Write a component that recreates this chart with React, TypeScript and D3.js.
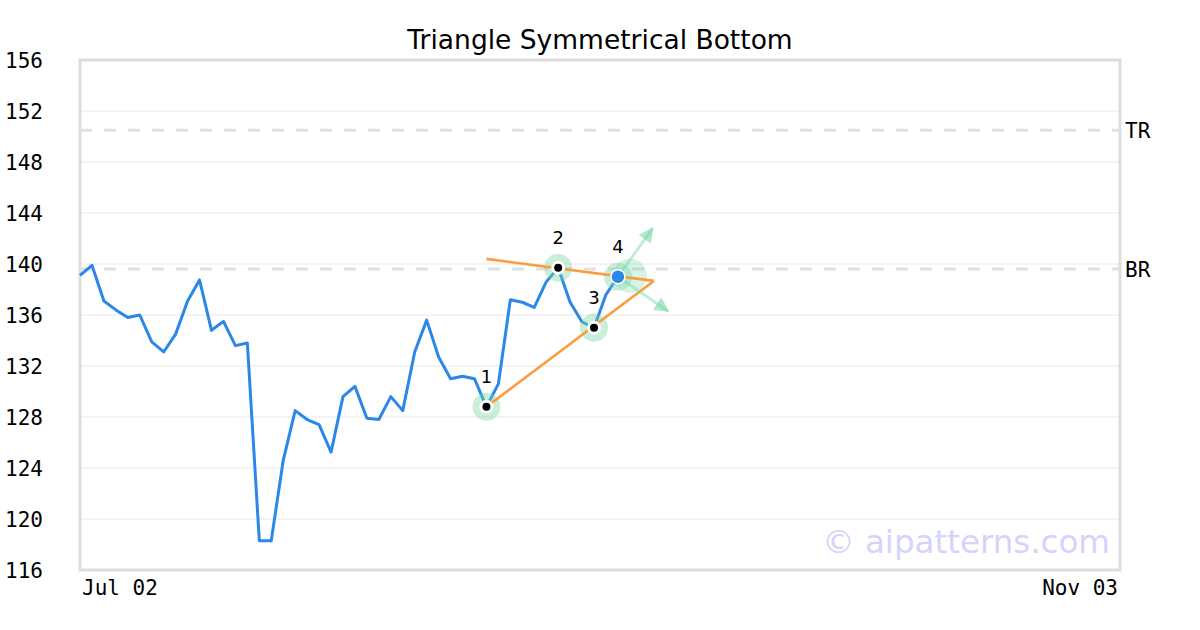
import React from "react";
import * as d3 from "d3";

const prices: number[] = [
  139.1, 139.9, 137.1, 136.4, 135.8, 136.0, 133.9, 133.1, 134.5, 137.1,
  138.75, 134.8, 135.5, 133.6, 133.8, 118.3, 118.3, 124.6, 128.5, 127.8,
  127.4, 125.25, 129.6, 130.4, 127.9, 127.8, 129.6, 128.5, 133.1, 135.6,
  132.7, 131.0, 131.2, 131.0, 128.8, 130.6, 137.2, 137.0, 136.6, 138.6,
  139.7, 137.0, 135.45, 135.0, 137.6, 139.0,
];
const totalSlots = 87;
const xTickLabels = ["Jul 02", "Nov 03"];
const yTicks = [116, 120, 124, 128, 132, 136, 140, 144, 148, 152, 156];
const pivotIdx = [34, 40, 43, 45];
const pivotLabels = ["1", "2", "3", "4"];
const upperLine = [
  { i: 34, v: 140.4 },
  { i: 48, v: 138.67 },
];
const lowerLine = [
  { i: 34, v: 128.8 },
  { i: 48, v: 138.67 },
];
const arrowTips = [
  { i: 47.9, v: 142.8 },
  { i: 49.2, v: 136.3 },
];
const levels = [
  { name: "TR", v: 150.5 },
  { name: "BR", v: 139.6 },
];

const W = 1200;
const H = 630;
const L = 80, R = 1120, T = 60, B = 570;
const mono = "'DejaVu Sans Mono', monospace";
const sans = "'DejaVu Sans', sans-serif";

export default function App() {
  const x = d3.scaleLinear().domain([0, totalSlots]).range([L, R]);
  const y = d3.scaleLinear().domain([116, 156]).range([B, T]);
  const line = d3
    .line<number>()
    .x((_, i) => x(i))
    .y((d) => y(d));
  const seg = d3
    .line<{ i: number; v: number }>()
    .x((d) => x(d.i))
    .y((d) => y(d.v));

  const p4 = { i: pivotIdx[3], v: prices[pivotIdx[3]] };
  const arrowColor = "rgba(120, 215, 165, 0.45)";

  return (
    <svg
      width={W}
      height={H}
      style={{ position: "absolute", left: 0, top: 0, background: "#fff" }}
    >
      <defs>
        <marker
          id="ah"
          viewBox="0 0 10 10"
          refX="9"
          refY="5"
          markerWidth="5"
          markerHeight="5"
          orient="auto"
          markerUnits="strokeWidth"
        >
          <path d="M0,0 L10,5 L0,10 Z" fill="rgba(120, 215, 165, 0.6)" />
        </marker>
      </defs>
      <text
        x={600}
        y={49}
        textAnchor="middle"
        fontFamily={sans}
        fontSize={26.5}
        fill="#000"
      >
        Triangle Symmetrical Bottom
      </text>
      {yTicks.map((t) => (
        <g key={t}>
          {t !== 116 && t !== 156 && (
            <line x1={L} x2={R} y1={y(t)} y2={y(t)} stroke="#e8e8e8" strokeWidth={1} />
          )}
          <text
            x={5}
            y={y(t)}
            dy="0.36em"
            fontFamily={mono}
            fontSize={21}
            fill="#000"
          >
            {t}
          </text>
        </g>
      ))}
      {levels.map((lv) => (
        <g key={lv.name}>
          <line
            x1={L}
            x2={R}
            y1={y(lv.v)}
            y2={y(lv.v)}
            stroke="#e0e0e0"
            strokeWidth={3}
            strokeDasharray="12,12"
          />
          <text
            x={R + 5}
            y={y(lv.v)}
            dy="0.36em"
            fontFamily={mono}
            fontSize={21}
            fill="#000"
          >
            {lv.name}
          </text>
        </g>
      ))}
      <rect
        x={L}
        y={T}
        width={R - L}
        height={B - T}
        fill="none"
        stroke="#dddddd"
        strokeWidth={3}
      />
      <text x={L + 2} y={595} fontFamily={mono} fontSize={21} fill="#000">
        {xTickLabels[0]}
      </text>
      <text
        x={R - 2}
        y={595}
        textAnchor="end"
        fontFamily={mono}
        fontSize={21}
        fill="#000"
      >
        {xTickLabels[1]}
      </text>
      <text
        x={1110}
        y={553}
        textAnchor="end"
        fontFamily={sans}
        fontSize={32.5}
        fill="#d4d4fb"
      >
        © aipatterns.com
      </text>
      <path d={line(prices) || ""} fill="none" stroke="#2b87e8" strokeWidth={3} strokeLinejoin="round" />
      {pivotIdx.slice(0, 3).map((pi) => (
        <circle key={"g" + pi} cx={x(pi)} cy={y(prices[pi])} r={14} fill="rgba(120, 215, 165, 0.4)" />
      ))}
      <circle cx={x(p4.i)} cy={y(p4.v)} r={14} fill="rgba(120, 215, 165, 0.4)" />
      <circle cx={x(p4.i) + 12} cy={y(p4.v) - 1} r={17} fill="rgba(120, 215, 165, 0.3)" />
      <path d={seg(upperLine) || ""} fill="none" stroke="#f99d3e" strokeWidth={2.7} />
      <path d={seg(lowerLine) || ""} fill="none" stroke="#f99d3e" strokeWidth={2.7} />
      {arrowTips.map((a, k) => (
        <line
          key={"a" + k}
          x1={x(p4.i)}
          y1={y(p4.v)}
          x2={x(a.i)}
          y2={y(a.v)}
          stroke={arrowColor}
          strokeWidth={3}
          markerEnd="url(#ah)"
        />
      ))}
      {pivotIdx.slice(0, 3).map((pi) => (
        <g key={"p" + pi}>
          <circle cx={x(pi)} cy={y(prices[pi])} r={7} fill="#fff" />
          <circle cx={x(pi)} cy={y(prices[pi])} r={4} fill="#000" />
        </g>
      ))}
      <circle cx={x(p4.i)} cy={y(p4.v)} r={7} fill="#2b87e8" stroke="#fff" strokeWidth={1.5} />
      {pivotIdx.map((pi, k) => (
        <text
          key={"l" + pi}
          x={x(pi)}
          y={y(prices[pi]) - 24}
          textAnchor="middle"
          fontFamily={sans}
          fontSize={18}
          fill="#000"
        >
          {pivotLabels[k]}
        </text>
      ))}
    </svg>
  );
}
